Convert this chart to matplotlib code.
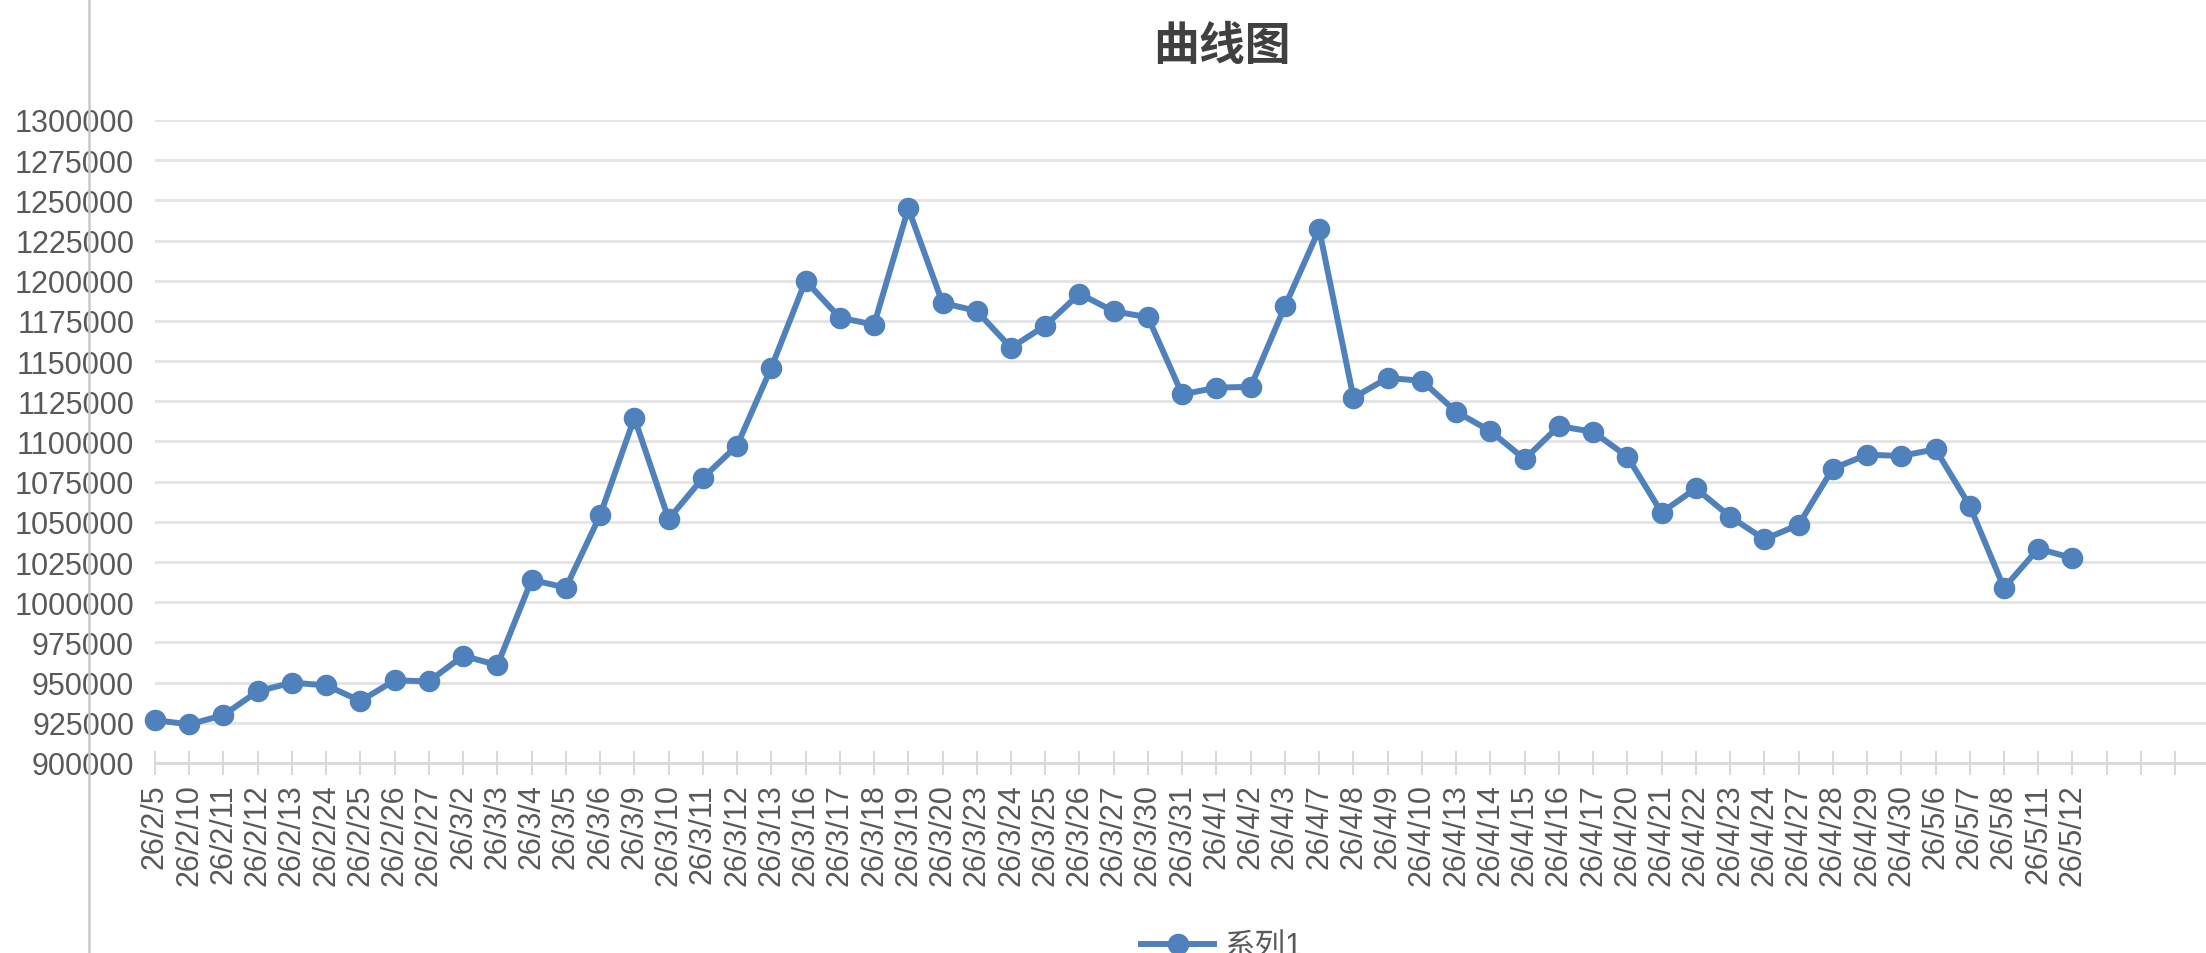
import numpy as np
import matplotlib.pyplot as plt
from matplotlib.lines import Line2D

# data
dates = ["26/2/5", "26/2/10", "26/2/11", "26/2/12", "26/2/13", "26/2/24", "26/2/25",
         "26/2/26", "26/2/27", "26/3/2", "26/3/3", "26/3/4", "26/3/5", "26/3/6",
         "26/3/9", "26/3/10", "26/3/11", "26/3/12", "26/3/13", "26/3/16", "26/3/17",
         "26/3/18", "26/3/19", "26/3/20", "26/3/23", "26/3/24", "26/3/25", "26/3/26",
         "26/3/27", "26/3/30", "26/3/31", "26/4/1", "26/4/2", "26/4/3", "26/4/7",
         "26/4/8", "26/4/9", "26/4/10", "26/4/13", "26/4/14", "26/4/15", "26/4/16",
         "26/4/17", "26/4/20", "26/4/21", "26/4/22", "26/4/23", "26/4/24", "26/4/27",
         "26/4/28", "26/4/29", "26/4/30", "26/5/6", "26/5/7", "26/5/8", "26/5/11",
         "26/5/12"]
values = [926700, 924000, 929800, 944600, 950000, 948300, 938600, 951400, 950800, 966700,
          960900, 1013900, 1009100, 1054100, 1114700, 1051700, 1077300, 1097500, 1146000, 1200000,
          1177000, 1172700, 1245000, 1186200, 1181200, 1158300, 1172100, 1191900, 1181000, 1177300,
          1129300, 1133500, 1134000, 1184100, 1232000, 1127300, 1139500, 1137800, 1118500, 1106500,
          1089000, 1109600, 1106000, 1090600, 1055800, 1070800, 1053300, 1039200, 1048100, 1083100,
          1091800, 1091000, 1095200, 1060000, 1008900, 1033300, 1027500]
n_slots = 60  # empty categories after the last date
yticks = np.arange(900000, 1300001, 25000)

plt.rcParams['font.family'] = ['Liberation Sans', 'Noto Sans CJK SC', 'DejaVu Sans']

W, H = 2206, 954
fig = plt.figure(figsize=(W / 100, H / 100), dpi=100)
left, right, bottom, top = 155, 2206, 764, 121
ax = fig.add_axes([left / W, (H - bottom) / H, (right - left) / W, (bottom - top) / H])

blue = "#4f81bd"
x = np.arange(len(values))
ax.plot(x, values, color=blue, lw=4.3, marker="o", ms=14.5, label="系列1",
        clip_on=False, zorder=3)

ax.set_xlim(0, 59.9)
ax.set_ylim(900000, 1300000)
ax.set_yticks(yticks)
ax.set_yticklabels([str(v) for v in yticks])
ax.set_xticks(range(n_slots))
ax.set_xticklabels(dates + [""] * (n_slots - len(dates)), rotation=90)

ax.grid(axis="y", color="#e4e4e4", lw=2)
ax.set_axisbelow(True)
for s in ["left", "right", "top"]:
    ax.spines[s].set_visible(False)
ax.spines["bottom"].set_color("#d9d9d9")
ax.spines["bottom"].set_linewidth(2)

ax.tick_params(axis="y", length=0, pad=15, labelsize=22, labelcolor="#595959")
ax.tick_params(axis="x", direction="inout", length=17, width=1.5, color="#d9d9d9",
               pad=6, labelsize=22, labelcolor="#595959")

fig.text(1222 / W, (H - 47) / H, "曲线图", ha="center", va="center", fontsize=33,
         fontweight="bold", color="#404040", family=["Noto Sans CJK SC", "DejaVu Sans"])

# grey border line on the left of the sheet
fig.add_artist(Line2D([89 / W, 89 / W], [0, 1], transform=fig.transFigure,
                      color="#c8c8c8", lw=1.8))

leg = ax.legend(loc="center", bbox_to_anchor=(1222 / W, (H - 948) / H),
                bbox_transform=fig.transFigure, frameon=False, fontsize=22,
                handlelength=2.4, handletextpad=0.35, borderpad=0)
for t in leg.get_texts():
    t.set_color("#595959")

fig.savefig("out.png", dpi=100)
